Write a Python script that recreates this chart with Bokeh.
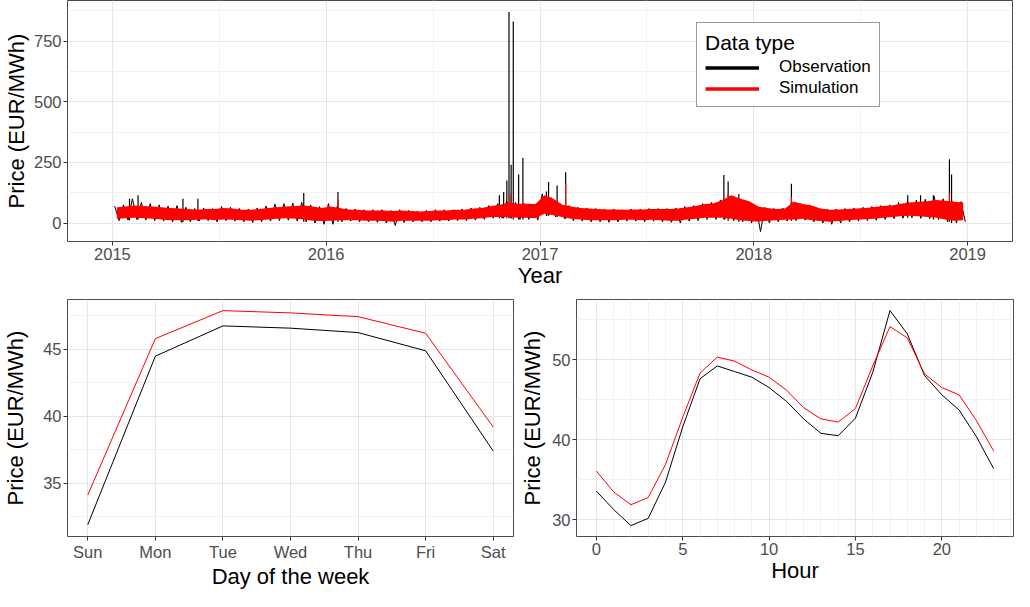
import numpy as np
from bokeh.plotting import figure
from bokeh.layouts import column, row
from bokeh.models import Range1d, FixedTicker, Legend, LegendItem
from bokeh.embed import file_html
from bokeh.resources import INLINE

# ---------------- data ----------------
start_year = 2015
periods_per_year = 24  # half-month envelopes

obs_high = [
    70, 75, 100, 85, 80, 75, 70, 72, 65, 60, 62, 60, 68, 65, 60, 58, 62, 70, 78, 80, 82, 85, 75, 68,   # 2015
    80, 70, 60, 58, 55, 55, 55, 52, 55, 52, 50, 52, 55, 55, 55, 58, 62, 65, 72, 80, 90, 85, 80, 78,    # 2016
    120, 105, 80, 72, 65, 62, 60, 58, 58, 55, 58, 58, 60, 60, 60, 62, 68, 72, 80, 85, 95, 110, 100, 90,  # 2017
    70, 65, 60, 62, 90, 80, 75, 62, 58, 58, 60, 62, 65, 68, 72, 75, 85, 90, 95, 98, 110, 100, 90, 88,  # 2018
]
obs_low = [
    10, 12, 15, 12, 10, 8, 5, 3, 5, 8, 10, 5, 10, 8, 5, 2, 5, 8, 10, 12, 8, 5, 0, -5,
    -5, 5, 8, 5, 5, 3, 0, -10, 2, 5, 5, 5, 8, 8, 10, 10, 12, 15, 20, 20, 20, 15, 15, 12,
    30, 25, 18, 10, 8, 5, 5, 3, 5, 8, 8, 5, 8, 5, 3, 0, 8, 10, 15, 15, 15, 10, 5, 0,
    -35, 0, 5, 8, 10, 12, 5, 0, -5, 0, 5, 8, 10, 12, 15, 18, 20, 22, 20, 18, 15, 5, 0, 5,
]
sim_high = [
    65, 68, 72, 70, 68, 65, 62, 60, 58, 55, 58, 58, 62, 60, 55, 55, 58, 62, 65, 68, 70, 72, 68, 62,
    68, 62, 56, 55, 52, 52, 52, 50, 52, 50, 48, 50, 52, 52, 55, 55, 60, 62, 70, 75, 85, 80, 80, 78,
    115, 100, 75, 68, 62, 60, 58, 56, 56, 55, 56, 56, 58, 58, 58, 60, 65, 70, 78, 82, 95, 115, 100, 90,
    68, 62, 58, 60, 88, 78, 72, 60, 55, 56, 58, 60, 62, 66, 70, 72, 80, 85, 88, 90, 95, 92, 88, 85,
]
sim_low = [
    18, 20, 22, 20, 18, 15, 12, 12, 12, 14, 16, 12, 15, 14, 12, 10, 12, 15, 18, 20, 18, 15, 10, 8,
    10, 12, 12, 12, 10, 10, 8, 5, 10, 10, 10, 10, 12, 12, 15, 15, 18, 20, 25, 25, 25, 22, 22, 20,
    38, 32, 25, 18, 15, 12, 12, 12, 12, 14, 14, 12, 14, 12, 10, 10, 15, 18, 22, 22, 22, 18, 12, 8,
    5, 10, 12, 14, 15, 18, 12, 8, 5, 8, 12, 14, 16, 18, 22, 25, 28, 30, 28, 25, 22, 15, 10, 12,
]

obs_spike_dates = [2015.08, 2015.12, 2015.33, 2015.40, 2015.895, 2016.055, 2016.81, 2016.83,
                   2016.845, 2016.855, 2016.865, 2016.875, 2016.90, 2016.92, 2017.03, 2017.04,
                   2017.08, 2017.12, 2017.86, 2017.88, 2017.93, 2018.176, 2018.72, 2018.78,
                   2018.84, 2018.915, 2018.925]
obs_spike_values = [100, 115, 100, 100, 124, 128, 115, 128,
                    175, 870, 240, 830, 200, 268, 130, 169,
                    155, 209, 198, 171, 120, 162, 115, 115,
                    115, 263, 200]
sim_spike_dates = [2016.055, 2016.86, 2017.12, 2017.88, 2018.176, 2018.915]
sim_spike_values = [95, 120, 162, 121, 108, 124]

year_ticks = [2015, 2016, 2017, 2018, 2019]
year_minor = [2014.5, 2015.5, 2016.5, 2017.5, 2018.5, 2019.5]
price_ticks = [0, 250, 500, 750]
price_minor = [-125, 125, 375, 625, 875]

days = ["Sun", "Mon", "Tue", "Wed", "Thu", "Fri", "Sat"]
dow_obs = [31.9, 44.48, 46.74, 46.57, 46.24, 44.88, 37.4]
dow_sim = [34.12, 45.79, 47.88, 47.71, 47.43, 46.19, 39.19]
dow_ticks = [35, 40, 45]
dow_minor = [32.5, 37.5, 42.5, 47.5]

hours = list(range(24))
hour_obs = [33.6, 31.3, 29.3, 30.2, 34.7, 41.6, 47.6, 49.2, 48.5, 47.8, 46.5, 44.8,
            42.6, 40.8, 40.5, 42.7, 48.4, 56.1, 53.2, 48.0, 45.6, 43.7, 40.4, 36.4]
hour_sim = [36.1, 33.5, 31.9, 32.8, 36.9, 42.8, 48.3, 50.3, 49.8, 48.7, 47.8, 46.2,
            44.0, 42.6, 42.2, 43.9, 49.2, 54.1, 52.7, 48.2, 46.5, 45.6, 42.4, 38.6]
hour_ticks = [0, 5, 10, 15, 20]
hour_minor = [1, 2, 3, 4, 6, 7, 8, 9, 11, 12, 13, 14, 16, 17, 18, 19, 21, 22, 23, 24]
hour_price_ticks = [30, 40, 50]
hour_price_minor = [25, 35, 45, 55]

FONT = "Liberation Sans"
OBS_COLOR = "black"
SIM_COLOR = "#ff0000"

period_t = [start_year + (i + 0.5) / periods_per_year for i in range(len(obs_high))]


def zigzag(high, low):
    t, v = [], []
    for i in range(len(high)):
        t.append(start_year + (i + 0.25) / periods_per_year)
        v.append(high[i])
        t.append(start_year + (i + 0.75) / periods_per_year)
        v.append(low[i])
    return t, v


def spike_base(dates, lows):
    return [lows[min(int((d - start_year) * periods_per_year), len(lows) - 1)] for d in dates]


def style(p):
    p.outline_line_color = "#4d4d4d"
    p.outline_line_width = 1
    p.background_fill_color = "white"
    p.border_fill_color = "white"
    for ax in p.axis:
        ax.axis_line_color = None
        ax.major_tick_line_color = "#333333"
        ax.major_tick_out = 4
        ax.major_tick_in = 0
        ax.minor_tick_line_color = None
        ax.major_label_text_font = FONT
        ax.major_label_text_font_size = "16.5px"
        ax.major_label_text_color = "#4d4d4d"
        ax.major_label_standoff = 2
        ax.axis_label_text_font = FONT
        ax.axis_label_text_font_size = "22px"
        ax.axis_label_text_font_style = "normal"
        ax.axis_label_text_color = "black"
    p.grid.grid_line_color = "#e6e6e6"
    p.grid.grid_line_width = 1
    p.grid.minor_grid_line_color = "#f2f2f2"
    p.grid.minor_grid_line_width = 1


# ---------------- top panel ----------------
top = figure(width=1014, height=293, output_backend="svg", toolbar_location=None,
             x_range=Range1d(2014.79, 2019.21), y_range=Range1d(-76, 917),
             min_border_left=62, min_border_right=2, min_border_top=0, min_border_bottom=52)
zt, zv = zigzag(obs_high, obs_low)
top.line(zt, zv, line_color=OBS_COLOR, line_width=1)
top.segment(x0=obs_spike_dates, y0=spike_base(obs_spike_dates, obs_low),
            x1=obs_spike_dates, y1=obs_spike_values, line_color=OBS_COLOR, line_width=1.2)
top.varea(x=period_t, y1=sim_low, y2=sim_high, fill_color=SIM_COLOR)
top.segment(x0=sim_spike_dates, y0=spike_base(sim_spike_dates, sim_low),
            x1=sim_spike_dates, y1=sim_spike_values, line_color=SIM_COLOR, line_width=1.2)
top.xaxis.ticker = FixedTicker(ticks=year_ticks, minor_ticks=year_minor)
top.yaxis.ticker = FixedTicker(ticks=price_ticks, minor_ticks=price_minor)
top.xaxis.axis_label = "Year"
top.yaxis.axis_label = "Price (EUR/MWh)"
style(top)
top.xaxis.axis_label_standoff = 0
top.yaxis.axis_label_standoff = 2

# legend keys (hidden copies, thicker lines)
leg_obs = top.line(period_t, obs_high, line_color=OBS_COLOR, line_width=3.5, visible=False)
leg_sim = top.line(period_t, sim_high, line_color=SIM_COLOR, line_width=3.5, visible=False)
legend = Legend(items=[LegendItem(label="Observation", renderers=[leg_obs]),
                       LegendItem(label="Simulation", renderers=[leg_sim])],
                location=(629, 134), title="Data type")
legend.title_text_font = FONT
legend.title_text_font_size = "21px"
legend.title_text_font_style = "normal"
legend.title_text_color = "black"
legend.title_standoff = 2
legend.label_text_font = FONT
legend.label_text_font_size = "17px"
legend.label_text_color = "black"
legend.label_standoff = 20
legend.label_height = 17
legend.glyph_width = 54
legend.glyph_height = 17
legend.spacing = 1
legend.padding = 8
legend.border_line_color = "#333333"
legend.border_line_width = 1
legend.background_fill_alpha = 1
top.add_layout(legend)

# ---------------- day of week ----------------
dow_x = list(range(len(days)))
pd_ = figure(width=514, height=298, output_backend="svg", toolbar_location=None,
             x_range=Range1d(-0.3, 6.3), y_range=Range1d(31.02, 48.71),
             min_border_left=62, min_border_right=1, min_border_top=6, min_border_bottom=50)
pd_.line(dow_x, dow_obs, line_color=OBS_COLOR, line_width=1)
pd_.line(dow_x, dow_sim, line_color=SIM_COLOR, line_width=1)
pd_.xaxis.ticker = FixedTicker(ticks=dow_x)
pd_.xaxis.major_label_overrides = {i: d for i, d in zip(dow_x, days)}
pd_.yaxis.ticker = FixedTicker(ticks=dow_ticks, minor_ticks=dow_minor)
pd_.xaxis.axis_label = "Day of the week"
pd_.yaxis.axis_label = "Price (EUR/MWh)"
style(pd_)
pd_.xaxis.axis_label_standoff = 0
pd_.yaxis.axis_label_standoff = 12

# ---------------- hour ----------------
ph = figure(width=500, height=298, output_backend="svg", toolbar_location=None,
            x_range=Range1d(-1.15, 24.15), y_range=Range1d(27.94, 57.48),
            min_border_left=62, min_border_right=1, min_border_top=6, min_border_bottom=50)
ph.line(hours, hour_obs, line_color=OBS_COLOR, line_width=1)
ph.line(hours, hour_sim, line_color=SIM_COLOR, line_width=1)
ph.xaxis.ticker = FixedTicker(ticks=hour_ticks, minor_ticks=hour_minor)
ph.yaxis.ticker = FixedTicker(ticks=hour_price_ticks, minor_ticks=hour_price_minor)
ph.xaxis.axis_label = "Hour"
ph.yaxis.axis_label = "Price (EUR/MWh)"
style(ph)
ph.xaxis.axis_label_standoff = 0
ph.yaxis.axis_label_standoff = 4

layout = column(top, row(pd_, ph))
open("out.html", "w").write(file_html(layout, INLINE))
